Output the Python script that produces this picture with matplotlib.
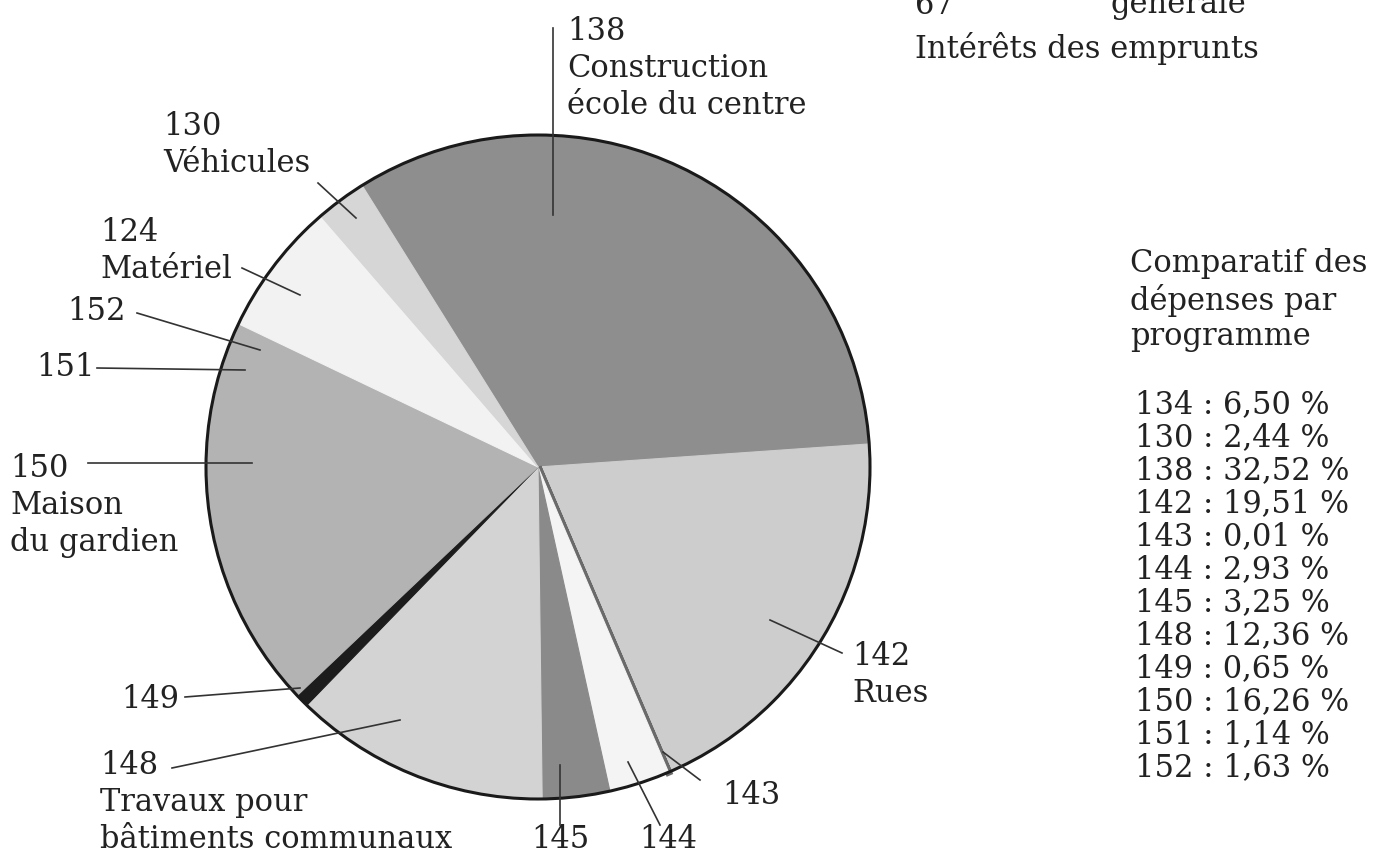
import matplotlib.pyplot as plt
from matplotlib.patches import Circle

plt.rcParams['font.family'] = ['DejaVu Serif']

# programmes in the order they run round the pie (clockwise from the top)
codes = ['138', '142', '143', '144', '145', '148', '149', '150', '151', '152', '134', '130']
pcts = [32.52, 19.51, 0.01, 2.93, 3.25, 12.36, 0.65, 16.26, 1.14, 1.63, 6.50, 2.44]
greys = ['#8e8e8e', '#cdcdcd', '#6a6a6a', '#f4f4f4', '#8a8a8a', '#d3d3d3',
         '#1c1c1c', '#b3b3b3', '#b3b3b3', '#b3b3b3', '#f2f2f2', '#d6d6d6']

# legend on the right, in the order printed
legend_codes = ['134', '130', '138', '142', '143', '144', '145', '148', '149', '150', '151', '152']
legend_pcts = [6.50, 2.44, 32.52, 19.51, 0.01, 2.93, 3.25, 12.36, 0.65, 16.26, 1.14, 1.63]

fig = plt.figure(figsize=(13.74, 8.56), dpi=100)
ax = fig.add_axes([0, 0, 1, 1])

cx, cy, r = 538, 467, 332
# y axis is inverted below, so counterclock in data = clockwise on screen
wedges, _ = ax.pie(pcts, colors=greys, startangle=-122, counterclock=True,
                   center=(cx, cy), radius=r)
for w in wedges:
    w.set_edgecolor(w.get_facecolor())
    w.set_linewidth(0.8)
# the tiny 143 slice shows as a thin dark sliver in the print
wedges[codes.index('143')].set_linewidth(5)
ax.add_patch(Circle((cx, cy), r, fill=False, lw=2.2, ec='#1a1a1a'))

ax.set_xlim(0, 1374)
ax.set_ylim(856, 0)
ax.set_aspect('equal')
ax.axis('off')

fs = 22
lc = '#333333'

def label(x, y, txt, ha='left'):
    ax.text(x, y, txt, fontsize=fs, ha=ha, va='center', color='#222222', linespacing=1.25)

def lead(x0, y0, x1, y1):
    ax.plot([x0, x1], [y0, y1], color=lc, lw=1.2)

# labels round the pie
label(567, 68, '138\nConstruction\nécole du centre')
lead(553, 28, 553, 215)

label(163, 145, '130\nVéhicules')
lead(318, 183, 356, 218)

label(100, 251, '124\nMatériel')
lead(242, 268, 300, 295)

label(67, 311, '152')
lead(137, 313, 260, 350)

label(36, 367, '151')
lead(97, 368, 245, 370)

label(10, 505, '150\nMaison\ndu gardien')
lead(88, 463, 252, 463)

label(121, 700, '149')
lead(185, 697, 300, 688)

label(100, 803, '148\nTravaux pour\nbâtiments communaux')
lead(172, 768, 400, 720)

label(560, 840, '145', ha='center')
lead(560, 765, 560, 825)

label(668, 840, '144', ha='center')
lead(628, 762, 660, 825)

label(722, 795, '143')
lead(663, 752, 700, 780)

label(852, 675, '142\nRues')
lead(770, 620, 842, 653)

# partial text at top right, cut by the page edge as in the print
label(915, 5, '67')
label(1110, 3, 'générale')
label(915, 48, 'Intérêts des emprunts')

# legend
ax.text(1130, 300, 'Comparatif des\ndépenses par\nprogramme', fontsize=fs, ha='left',
        va='center', color='#222222', linespacing=1.18)
for i, (c, p) in enumerate(zip(legend_codes, legend_pcts)):
    txt = f'{c} : {p:.2f} %'.replace('.', ',')
    ax.text(1135, 405 + i * 33, txt, fontsize=fs, ha='left', va='center', color='#222222')

fig.savefig('out.png', dpi=100)
